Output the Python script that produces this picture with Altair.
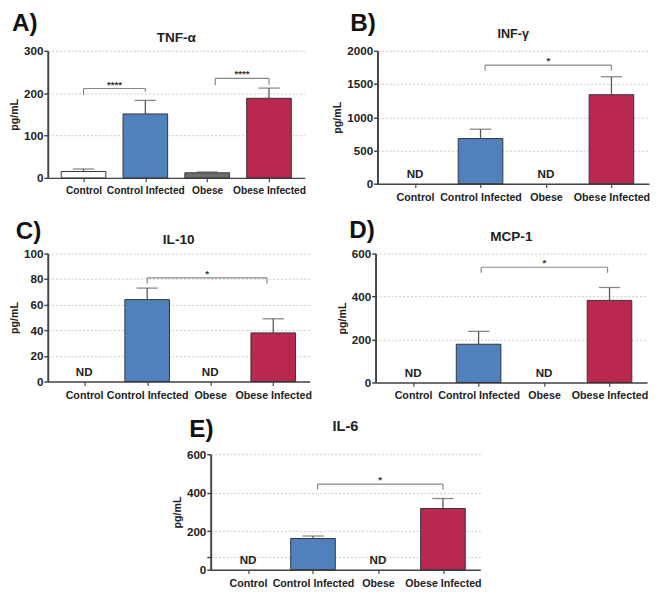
import altair as alt
import pandas as pd

FONT = "Liberation Sans"

categories = ["Control", "Control Infected", "Obese", "Obese Infected"]
bar_fills = ["#ffffff", "#4f81bd", "#6e6e6e", "#b8284f"]

tnf_mean = [15, 151, 12, 188]
tnf_sem = [6, 32, 2, 24]
inf_mean = [None, 680, None, 1340]
inf_sem = [None, 140, None, 270]
il10_mean = [None, 64, None, 38]
il10_sem = [None, 9, None, 11]
mcp_mean = [None, 178, None, 382]
mcp_sem = [None, 60, None, 60]
il6_mean = [None, 162, None, 318]
il6_sem = [None, 13, None, 52]

tnf_ticks = [0, 100, 200, 300]
inf_ticks = [0, 500, 1000, 1500, 2000]
il10_ticks = [0, 20, 40, 60, 80, 100]
mcp_ticks = [0, 200, 400, 600]
il6_ticks = [0, 200, 400, 600]
il6_unlabeled_ticks = [65]

# significance brackets: start group, end group, bracket level, left arm end, right arm end, label
tnf_brackets = [[0, 1, 211, 196, 203, "****"], [2.13, 3, 235, 219, 220, "****"]]
inf_brackets = [[1.07, 3, 1786, 1700, 1700, "*"]]
il10_brackets = [[1, 2.9, 81, 76.5, 76.5, "*"]]
mcp_brackets = [[1.04, 2.97, 536, 510, 510, "*"]]
il6_brackets = [[1.07, 3, 445, 416, 416, "*"]]


def panel(letter, name, means, sems, ticks, brackets, width, height,
          letter_x, letter_y, title_y, title_size, xlabel_size=11, extra_ticks=()):
    df = pd.DataFrame({"idx": list(range(4)), "group": categories,
                       "mean": means, "sem": sems, "fill": bar_fills})
    df["upper"] = df["mean"] + df["sem"]
    bars_df = df.dropna(subset=["mean"])
    nd_df = df[df["mean"].isna()].assign(zero=0, label="ND")
    br = pd.DataFrame(brackets, columns=["x1", "x2", "y", "yl", "yr", "label"])
    br["xm"] = (br["x1"] + br["x2"]) / 2

    xscale = alt.Scale(domain=[-0.5, 3.5], nice=False, zero=False)
    yscale = alt.Scale(domain=[0, ticks[-1]], nice=False)
    label_expr = "[" + ",".join("'" + c + "'" for c in categories) + "][datum.value]"
    xaxis = alt.Axis(values=[0, 1, 2, 3], labelExpr=label_expr, grid=False,
                     domainColor="#444444", domainWidth=1.5, tickColor="#444444",
                     tickSize=4, tickWidth=1.2, labelFontSize=xlabel_size,
                     labelFontWeight="bold", labelColor="#222222", labelPadding=4,
                     labelAngle=0, labelFont=FONT)
    yvals = sorted(list(ticks) + list(extra_ticks))
    hide = " || ".join("datum.value == " + str(v) for v in extra_ticks) or "false"
    yaxis = alt.Axis(values=yvals, format="d", grid=True, gridColor="#c8c8c8",
                     labelExpr="(" + hide + ") ? '' : datum.label",
                     gridDash=[2, 2], gridWidth=1, domainColor="#444444", domainWidth=2,
                     tickColor="#444444", tickSize=4, tickWidth=1.5,
                     labelFontSize=12, labelFontWeight="bold", labelColor="#222222",
                     labelPadding=1, titleFontSize=11, titleFontWeight="bold",
                     titleColor="#222222", titlePadding=4, labelFont=FONT,
                     titleFont=FONT)

    def X(f):
        return alt.X(f, type="quantitative", scale=xscale, axis=xaxis, title=None)

    def Y(f):
        return alt.Y(f, type="quantitative", scale=yscale, axis=yaxis, title="pg/mL")

    bars = alt.Chart(bars_df).mark_bar(orient="vertical", size=46, stroke="#333333",
                                       strokeWidth=1).encode(
        x=X("idx"), y=Y("mean"),
        fill=alt.Fill("fill:N", scale=None))
    err = alt.Chart(bars_df).mark_rule(color="#555555", strokeWidth=1.3).encode(
        x=X("idx"), y=Y("mean"), y2="upper:Q")
    caps = alt.Chart(bars_df).mark_tick(orient="horizontal", size=22, thickness=1.3,
                                        color="#555555").encode(
        x=X("idx"), y=Y("upper"))
    hline = alt.Chart(br).mark_rule(color="#888888", strokeWidth=1.2).encode(
        x=X("x1"), x2="x2:Q", y=Y("y"))
    larm = alt.Chart(br).mark_rule(color="#888888", strokeWidth=1.2).encode(
        x=X("x1"), y=Y("y"), y2="yl:Q")
    rarm = alt.Chart(br).mark_rule(color="#888888", strokeWidth=1.2).encode(
        x=X("x2"), y=Y("y"), y2="yr:Q")
    stars = alt.Chart(br).mark_text(fontSize=10, fontWeight="bold", color="#333333",
                                    baseline="alphabetic", dy=-1, font=FONT).encode(
        x=X("xm"), y=Y("y"), text="label:N")
    layers = [bars, err, caps, hline, larm, rarm, stars]
    if len(nd_df):
        nd = alt.Chart(nd_df).mark_text(fontSize=12, fontWeight="bold", color="#222222",
                                        baseline="alphabetic", dy=-6, font=FONT).encode(
            x=X("idx"), y=Y("zero"), text="label:N")
        layers.append(nd)
    one = pd.DataFrame({"a": [0]})
    ttl = alt.Chart(one).mark_text(text=name, fontSize=title_size, fontWeight="bold",
                                   color="#222222", baseline="alphabetic", align="center",
                                   font=FONT).encode(
        x=alt.value(width / 2), y=alt.value(title_y))
    let = alt.Chart(one).mark_text(text=letter, fontSize=25, fontWeight="bold",
                                   color="#111111", baseline="alphabetic", align="left",
                                   font=FONT).encode(
        x=alt.value(letter_x), y=alt.value(letter_y))
    layers += [ttl, let]
    return alt.layer(*layers).properties(width=width, height=height)


pA = panel("A)", "TNF-α", tnf_mean, tnf_sem, tnf_ticks, tnf_brackets, 265, 131,
           -37, -20, -9.5, 14, 10.5)
pB = panel("B)", "INF-γ", inf_mean, inf_sem, inf_ticks, inf_brackets, 280, 137,
           -28, -20, -13.5, 13)
pC = panel("C)", "IL-10", il10_mean, il10_sem, il10_ticks, il10_brackets, 270, 132,
           -33, -15, -10, 14)
pD = panel("D)", "MCP-1", mcp_mean, mcp_sem, mcp_ticks, mcp_brackets, 280, 133,
           -27, -16, -12.5, 14)
pE = panel("E)", "IL-6", il6_mean, il6_sem, il6_ticks, il6_brackets, 278, 119,
           -22, -18, -24, 15, 11, il6_unlabeled_ticks)

spacer = alt.Chart(pd.DataFrame({"a": [0]})).mark_point(opacity=0).encode(
    x=alt.value(0), y=alt.value(0)).properties(width=127, height=10)

row1 = alt.hconcat(pA, pB, spacing=27)
row2 = alt.hconcat(pC, pD, spacing=25)
row3 = alt.hconcat(spacer, pE, spacing=0)

chart = alt.vconcat(row1, row2, row3, spacing=17).properties(
    padding={"left": 0, "top": -5, "right": 0, "bottom": 0}, background="white"
).configure(font=FONT).configure_view(stroke=None)

chart.save("out.html", embed_options={"renderer": "svg", "actions": False})
